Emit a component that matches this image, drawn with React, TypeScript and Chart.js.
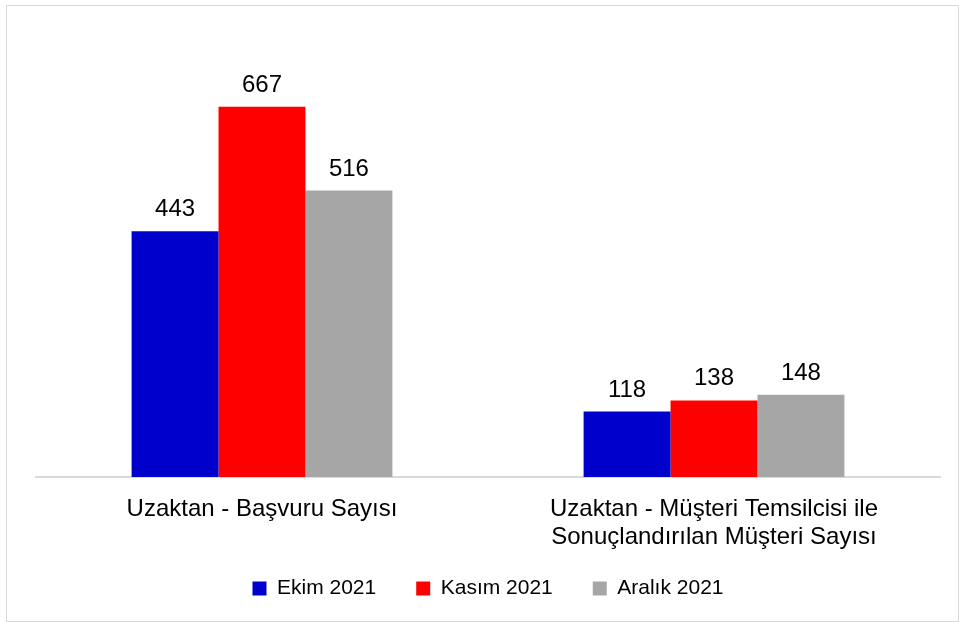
import React, { useEffect, useRef } from "react";
import { Chart, registerables } from "chart.js";

Chart.register(...registerables);

const categories: (string | string[])[] = [
  "Uzaktan - Başvuru Sayısı",
  ["Uzaktan - Müşteri Temsilcisi ile", "Sonuçlandırılan Müşteri Sayısı"],
];
const seriesNames = ["Ekim 2021", "Kasım 2021", "Aralık 2021"];
const ekim = [443, 118];
const kasim = [667, 138];
const aralik = [516, 148];
const colors = ["#0000CC", "#FF0000", "#A6A6A6"];

const FONT = "'Liberation Sans', Arial, sans-serif";

const valueLabels = {
  id: "valueLabels",
  afterDatasetsDraw(chart: any) {
    const ctx = chart.ctx;
    ctx.save();
    ctx.font = `24px ${FONT}`;
    ctx.fillStyle = "#000";
    ctx.textAlign = "center";
    ctx.textBaseline = "alphabetic";
    chart.data.datasets.forEach((ds: any, i: number) => {
      const meta = chart.getDatasetMeta(i);
      meta.data.forEach((el: any, j: number) => {
        ctx.fillText(String(ds.data[j]), el.x, el.y - 15);
      });
    });
    ctx.restore();
  },
};

export default function App() {
  const ref = useRef<HTMLCanvasElement>(null);
  useEffect(() => {
    if (!ref.current) return;
    const data = [ekim, kasim, aralik];
    const chart = new Chart(ref.current, {
      type: "bar",
      data: {
        labels: categories,
        datasets: seriesNames.map((n, i) => ({
          label: n,
          data: data[i],
          backgroundColor: colors[i],
          borderWidth: 0,
          categoryPercentage: 0.577,
          barPercentage: 1,
        })),
      },
      options: {
        animation: false,
        responsive: false,
        maintainAspectRatio: false,
        layout: { padding: { left: 29, right: 18, top: 27, bottom: 12 } },
        plugins: {
          tooltip: { enabled: false },
          legend: {
            position: "bottom",
            labels: {
              boxWidth: 14,
              boxHeight: 14,
              padding: 40,
              color: "#000",
              font: { family: FONT, size: 21 },
            },
          },
        },
        scales: {
          x: {
            grid: { display: false },
            border: { display: true, color: "#D9D9D9", width: 2 },
            ticks: {
              color: "#000",
              font: { family: FONT, size: 24, lineHeight: 1.17 },
              padding: 10,
              maxRotation: 0,
              autoSkip: false,
            },
            afterFit(scale: any) {
              scale.height = 61;
              // let the two-line tick label extend past the axis box
              scale._computeLabelArea = () => undefined;
            },
          },
          y: {
            display: false,
            min: 0,
            max: 800,
          },
        },
      },
      plugins: [valueLabels],
    });
    return () => chart.destroy();
  }, []);
  return (
    <div
      style={{
        position: "absolute",
        left: 6,
        top: 5,
        width: 953,
        height: 617,
        border: "1px solid #D9D9D9",
        boxSizing: "border-box",
        background: "#fff",
      }}
    >
      <canvas ref={ref} width={951} height={615} style={{ display: "block" }} />
    </div>
  );
}
